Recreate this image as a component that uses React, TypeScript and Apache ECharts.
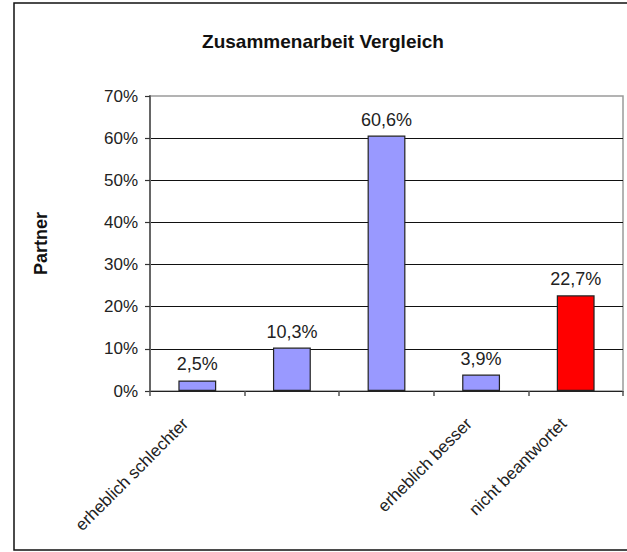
import React, { useEffect, useRef } from "react";
import * as echarts from "echarts";

const categories = [
  "erheblich schlechter",
  "",
  "",
  "erheblich besser",
  "nicht beantwortet",
];
const values = [2.5, 10.3, 60.6, 3.9, 22.7];
const barColors = ["#9999FF", "#9999FF", "#9999FF", "#9999FF", "#FF0000"];
const yTicks = { min: 0, max: 70, interval: 10 };
const titleText = "Zusammenarbeit Vergleich";
const yName = "Partner";

export default function App() {
  const ref = useRef<HTMLDivElement>(null);
  useEffect(() => {
    if (!ref.current) return;
    const chart = echarts.init(ref.current, null, { renderer: "svg" });
    const font = "'Liberation Sans', Arial, sans-serif";
    chart.setOption({
      animation: false,
      backgroundColor: "#ffffff",
      title: {
        text: titleText,
        left: 318,
        top: 27,
        textAlign: "center",
        textStyle: {
          fontFamily: font,
          fontWeight: "bold",
          fontSize: 19,
          color: "#111",
        },
      },
      graphic: [
        {
          type: "rect",
          shape: { x: 14, y: 3, width: 640, height: 547 },
          style: { fill: "none", stroke: "#111", lineWidth: 1.5 },
          silent: true,
          z: -1,
        },
      ],
      grid: {
        left: 150,
        top: 96,
        right: 4,
        bottom: 161,
        show: true,
        borderColor: "#9a9a9a",
        borderWidth: 1.5,
        backgroundColor: "#ffffff",
      },
      xAxis: {
        type: "category",
        data: categories,
        boundaryGap: true,
        axisLine: { show: true, lineStyle: { color: "#222", width: 1.2 } },
        axisTick: {
          show: true,
          alignWithLabel: false,
          interval: 0,
          length: 5,
          lineStyle: { color: "#555", width: 1.5 },
        },
        axisLabel: {
          interval: 0,
          rotate: 45,
          margin: 18,
          padding: [0, 17, 0, 0],
          fontFamily: font,
          fontSize: 17,
          color: "#222",
        },
        splitLine: { show: false },
      },
      yAxis: {
        type: "value",
        min: yTicks.min,
        max: yTicks.max,
        interval: yTicks.interval,
        name: yName,
        nameLocation: "middle",
        nameGap: 100,
        nameRotate: 90,
        nameTextStyle: {
          fontFamily: font,
          fontWeight: "bold",
          fontSize: 18,
          color: "#111",
        },
        axisLine: { show: true, lineStyle: { color: "#666", width: 2 } },
        axisTick: {
          show: true,
          length: 5,
          lineStyle: { color: "#333", width: 1.2 },
        },
        axisLabel: {
          formatter: "{value}%",
          margin: 12,
          fontFamily: font,
          fontSize: 17,
          color: "#222",
        },
        splitLine: {
          show: true,
          showMaxLine: false,
          lineStyle: { color: "#111", width: 1.2 },
        },
      },
      series: [
        {
          type: "bar",
          data: values.map((v, i) => ({
            value: v,
            itemStyle: { color: barColors[i] },
          })),
          barWidth: "40%",
          itemStyle: { borderColor: "#222", borderWidth: 1.2 },
          label: {
            show: true,
            position: "top",
            distance: 7,
            formatter: (p: any) =>
              String(p.value).replace(".", ",") + "%",
            fontFamily: font,
            fontSize: 18,
            color: "#222",
          },
        },
      ],
    });
    return () => chart.dispose();
  }, []);
  return (
    <div
      ref={ref}
      style={{ position: "fixed", left: 0, top: 0, width: 627, height: 552 }}
    />
  );
}
